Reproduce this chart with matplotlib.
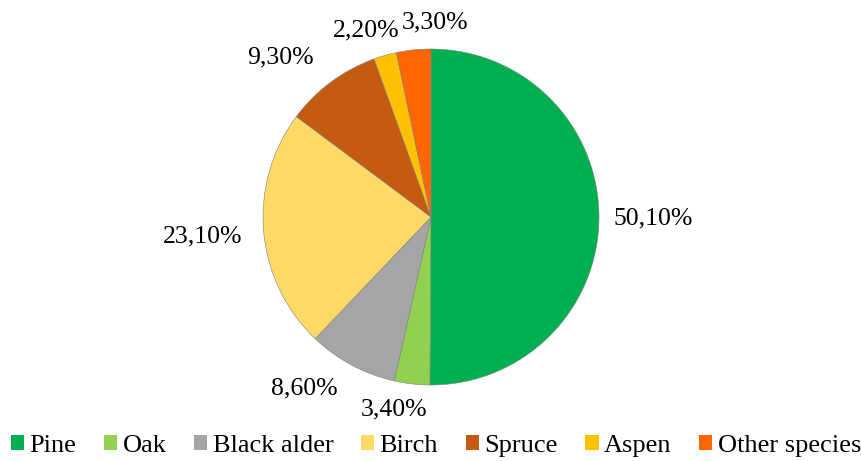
import matplotlib
matplotlib.use("Agg")
import matplotlib.pyplot as plt
from matplotlib.font_manager import FontProperties

categories = ["Pine", "Oak", "Black alder", "Birch", "Spruce", "Aspen", "Other species"]
values = [50.1, 3.4, 8.6, 23.1, 9.3, 2.2, 3.3]
labels = ["50,10%", "3,40%", "8,60%", "23,10%", "9,30%", "2,20%", "3,30%"]
colors = ["#00B050", "#92D050", "#A5A5A5", "#FFD966", "#C55A11", "#FFC000", "#FF6600"]

# label positions in pixel layout (x, y from top)
label_pos = [(653, 218), (394, 409), (304, 388), (203, 236), (280, 57), (366, 30), (435, 22)]

plt.rcParams['font.family'] = 'Liberation Serif'

W, H = 862, 461
fig = plt.figure(figsize=(W / 100, H / 100), dpi=100)
ax = fig.add_axes([0, 0, 1, 1])

cx, cy, r = 431, H - 217, 168
wedges, _ = ax.pie(values, colors=colors, startangle=90, counterclock=False,
                   center=(cx, cy), radius=r, frame=True,
                   wedgeprops=dict(edgecolor="#7f7f7f", linewidth=0.4))
ax.set_xlim(0, W)
ax.set_ylim(0, H)
ax.set_aspect('equal')
ax.axis('off')

for lab, (x, y) in zip(labels, label_pos):
    ax.text(x, H - y, lab, ha='center', va='center', fontsize=18.5, color='black',
            family='Liberation Serif')

handles = [plt.Rectangle((0, 0), 1, 1, facecolor=c, edgecolor='none') for c in colors]
fig.legend(handles, categories, loc='center', bbox_to_anchor=(436 / W, 1 - 446 / H),
           ncol=7, frameon=False, prop=FontProperties(family='Liberation Serif', size=19),
           handlelength=0.5, handleheight=0.5,
           handletextpad=0.2, columnspacing=1.05, borderaxespad=0, borderpad=0)

fig.savefig("out.png", dpi=100)
